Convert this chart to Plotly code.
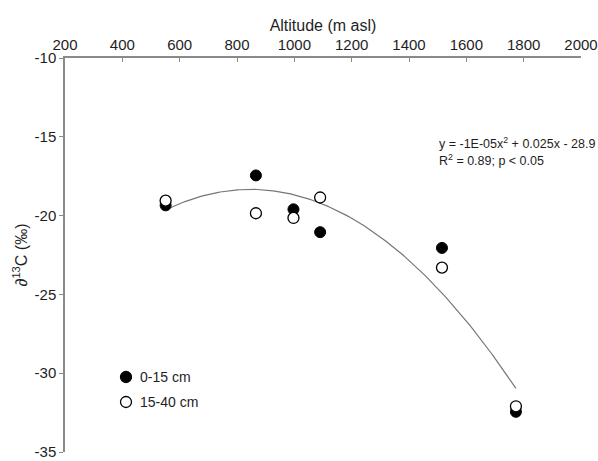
import numpy as np
import plotly.graph_objects as go

# Soil organic carbon isotope ratio versus altitude, two sampling depths
altitude = [551, 866, 997, 1090, 1515, 1773]
d13c_0_15 = [-19.35, -17.45, -19.6, -21.05, -22.05, -32.45]
d13c_15_40 = [-19.05, -19.85, -20.15, -18.85, -23.3, -32.1]

# Quadratic fit reported in the annotation (coefficients before rounding)
fit_a, fit_b, fit_c = -1.475e-05, 0.0250, -28.93

x_ticks = [200, 400, 600, 800, 1000, 1200, 1400, 1600, 1800, 2000]
y_ticks = [-10, -15, -20, -25, -30, -35]
y_tick_text = ["-10", "-15", "-20", "-25", "-30", "-35"]

series_names = ["0-15 cm", "15-40 cm"]
eq_line1 = "y = -1E-05x<sup>2</sup> + 0.025x - 28.9"
eq_line2 = "R<sup>2</sup> = 0.89; p < 0.05"

font_family = "Liberation Sans, Arial, sans-serif"
axis_color = "#8a8a8a"
text_color = "#1e1e1e"

W, H = 598, 461
ML, MR, MT, MB = 65, 17, 58, 9
PW, PH = W - ML - MR, H - MT - MB


def px_x(px):
    return (px - ML) / PW


def px_y(py):
    return 1 - (py - MT) / PH


xfit = np.linspace(min(altitude), max(altitude), 200)
yfit = fit_a * xfit ** 2 + fit_b * xfit + fit_c

fig = go.Figure()
fig.add_trace(go.Scatter(
    x=xfit, y=yfit, mode="lines",
    line=dict(color="#777777", width=1.2),
    showlegend=False, hoverinfo="skip",
))
fig.add_trace(go.Scatter(
    x=altitude, y=d13c_0_15, mode="markers", name=series_names[0],
    marker=dict(symbol="circle", size=11, color="black",
                line=dict(color="black", width=1)),
    showlegend=False,
))
fig.add_trace(go.Scatter(
    x=altitude, y=d13c_15_40, mode="markers", name=series_names[1],
    marker=dict(symbol="circle", size=11, color="white",
                line=dict(color="black", width=1.3)),
    showlegend=False,
))

# equation and fit statistics
for text, py in [(eq_line1, 143), (eq_line2, 160)]:
    fig.add_annotation(
        x=px_x(437), y=px_y(py), xref="x domain", yref="y domain",
        text=text, showarrow=False, align="left",
        xanchor="left", yanchor="middle",
        font=dict(family=font_family, size=12.5, color=text_color),
    )

# key: symbol + label for each depth
key_rows = [(377, "black"), (402, "white")]
for (py, fill), name in zip(key_rows, series_names):
    fig.add_shape(
        type="circle", xref="paper", yref="paper",
        xsizemode="pixel", ysizemode="pixel",
        xanchor=px_x(126), yanchor=px_y(py),
        x0=-5.5, x1=5.5, y0=-5.5, y1=5.5,
        fillcolor=fill, line=dict(color="black", width=1.3),
    )
    fig.add_annotation(
        x=px_x(138), y=px_y(py), xref="paper", yref="paper",
        text=name, showarrow=False, xanchor="left", yanchor="middle",
        font=dict(family=font_family, size=14, color=text_color),
    )

fig.update_layout(
    width=W, height=H,
    margin=dict(l=ML, r=MR, t=MT, b=MB),
    paper_bgcolor="white", plot_bgcolor="white",
    font=dict(family=font_family, size=15, color=text_color),
    showlegend=False,
    xaxis=dict(
        side="top", range=[200, 2000], tickvals=x_ticks,
        showline=True, linecolor=axis_color, linewidth=1.5,
        ticks="inside", ticklen=4, tickcolor=axis_color, tickwidth=1,
        showgrid=False, zeroline=False, automargin=False,
        tickfont=dict(size=15),
        title=dict(text="Altitude (m asl)", font=dict(size=16), standoff=1),
    ),
    yaxis=dict(
        range=[-35, -10], tickvals=y_ticks, ticktext=y_tick_text,
        showline=True, linecolor=axis_color, linewidth=1.5,
        ticks="outside", ticklen=4, tickcolor=axis_color, tickwidth=1,
        showgrid=False, zeroline=False, automargin=False,
        tickfont=dict(size=15),
        title=dict(text="∂<sup>13</sup>C (‰)", font=dict(size=16), standoff=3),
    ),
)

fig.write_html("out.html")
